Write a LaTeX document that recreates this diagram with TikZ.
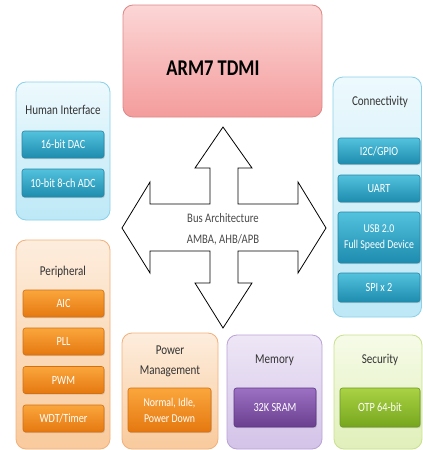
\documentclass[tikz,border=0pt]{standalone}
\usepackage{fontspec}
\setmainfont[FakeStretch=0.82]{Carlito}
\usetikzlibrary{shadows}
\definecolor{armtop}{HTML}{FCD6D6}
\definecolor{armbot}{HTML}{F49C9C}
\definecolor{armline}{HTML}{DE8888}
\definecolor{cyptop}{HTML}{EDF9FD}
\definecolor{cypbot}{HTML}{BDE8F6}
\definecolor{cypline}{HTML}{8AD1E9}
\definecolor{cyboxtop}{HTML}{52C2DE}
\definecolor{cyboxbot}{HTML}{1E8CAE}
\definecolor{cyboxline}{HTML}{2A86A3}
\definecolor{orptop}{HTML}{FDEDDD}
\definecolor{orpbot}{HTML}{F9CA9C}
\definecolor{orpline}{HTML}{F2B07A}
\definecolor{orboxtop}{HTML}{FAA63C}
\definecolor{orboxbot}{HTML}{E57810}
\definecolor{orboxline}{HTML}{D27012}
\definecolor{puptop}{HTML}{EEE7F6}
\definecolor{pupbot}{HTML}{D3C3E8}
\definecolor{pupline}{HTML}{B9A3D6}
\definecolor{puboxtop}{HTML}{9C70C2}
\definecolor{puboxbot}{HTML}{6A3F90}
\definecolor{puboxline}{HTML}{5E3884}
\definecolor{grptop}{HTML}{F6FBE8}
\definecolor{grpbot}{HTML}{E0EFBA}
\definecolor{grpline}{HTML}{C9E08C}
\definecolor{grboxtop}{HTML}{AAD244}
\definecolor{grboxbot}{HTML}{76A61E}
\definecolor{grboxline}{HTML}{6A9820}
\definecolor{ttlgray}{HTML}{333333}
\definecolor{busgray}{HTML}{4A4A4A}
\tikzset{
  panel/.style={draw, line width=0.8pt, rounded corners=10pt, inner sep=0pt, outer sep=0pt},
  subbox/.style={draw, line width=0.6pt, rounded corners=2.5pt, inner sep=0pt, outer sep=0pt,
    text=white, font=\fontsize{12.5}{14.5}\selectfont, align=center,
    drop shadow={opacity=0.25, shadow xshift=0.8pt, shadow yshift=-1.2pt}},
  armpanel/.style={panel, draw=armline, top color=armtop, bottom color=armbot},
  cypanel/.style={panel, draw=cypline, top color=cyptop, bottom color=cypbot},
  orpanel/.style={panel, draw=orpline, top color=orptop, bottom color=orpbot},
  pupanel/.style={panel, draw=pupline, top color=puptop, bottom color=pupbot},
  grpanel/.style={panel, draw=grpline, top color=grptop, bottom color=grpbot},
  cybox/.style={subbox, draw=cyboxline, top color=cyboxtop, bottom color=cyboxbot},
  orbox/.style={subbox, draw=orboxline, top color=orboxtop, bottom color=orboxbot},
  pubox/.style={subbox, draw=puboxline, top color=puboxtop, bottom color=puboxbot},
  grbox/.style={subbox, draw=grboxline, top color=grboxtop, bottom color=grboxbot},
  ttl/.style={text=ttlgray, font=\fontsize{13.5}{16}\selectfont, inner sep=0pt, align=center},
  bustext/.style={text=busgray, font=\fontsize{13}{21}\selectfont, inner sep=0pt, align=center},
  busarrow/.style={draw=black, fill=white, line width=0.8pt, line join=miter}
}
\begin{document}
\begin{tikzpicture}[x=1pt,y=-1pt]
\useasboundingbox (0,0) rectangle (423,450);
\fill[white] (0,0) rectangle (423,450);

% ARM7 core
\node[armpanel, minimum width=199pt, minimum height=112pt] (arm) at (222.5,61) {};
\node[text=black, font=\bfseries\fontsize{22.5}{26}\selectfont, inner sep=0pt] (armt) at (213,68) {ARM7 TDMI};

% Human Interface
\node[cypanel, minimum width=94pt, minimum height=138pt] (hi) at (63,151) {};
\node[ttl] (hit) at (63,110) {Human Interface};
\node[cybox, minimum width=82pt, minimum height=27pt] (dac) at (63,144.5) {16-bit DAC};
\node[cybox, minimum width=82pt, minimum height=28pt] (adc) at (63,183) {10-bit 8-ch ADC};

% Connectivity
\node[cypanel, minimum width=88.5pt, minimum height=240pt] (con) at (377.25,197) {};
\node[ttl] (cont) at (380,102) {Connectivity};
\node[cybox, minimum width=82pt, minimum height=26pt] (i2c) at (379,151) {I2C/GPIO};
\node[cybox, minimum width=82pt, minimum height=27pt] (uart) at (379,188.5) {UART};
\node[cybox, minimum width=82pt, minimum height=51pt, font=\fontsize{12}{16}\selectfont] (usb) at (379,237.5) {USB 2.0\\Full Speed Device};
\node[cybox, minimum width=82pt, minimum height=29pt] (spi) at (379,287.5) {SPI x 2};

% Peripheral
\node[orpanel, minimum width=94pt, minimum height=209pt] (per) at (63,344.5) {};
\node[ttl] (pert) at (63,272) {Peripheral};
\node[orbox, minimum width=81pt, minimum height=27pt] (aic) at (63.5,303.5) {AIC};
\node[orbox, minimum width=81pt, minimum height=27pt] (pll) at (63.5,341.5) {PLL};
\node[orbox, minimum width=81pt, minimum height=27pt] (pwm) at (63.5,380) {PWM};
\node[orbox, minimum width=81pt, minimum height=27pt] (wdt) at (63.5,418.5) {WDT/Timer};

% Power Management
\node[orpanel, minimum width=96pt, minimum height=116pt] (pm) at (170,391) {};
\node[ttl, font=\fontsize{13.5}{20}\selectfont] (pmt) at (170,361) {Power\\Management};
\node[orbox, minimum width=83pt, minimum height=44pt, font=\fontsize{12}{16}\selectfont] (pmb) at (169.5,410) {Normal, Idle,\\Power Down};

% Memory
\node[pupanel, minimum width=95pt, minimum height=114pt] (mem) at (274.5,392) {};
\node[ttl] (memt) at (274.5,360) {Memory};
\node[pubox, minimum width=82pt, minimum height=39pt] (sram) at (275,407.5) {32K SRAM};

% Security
\node[grpanel, minimum width=88pt, minimum height=114pt] (sec) at (378,392) {};
\node[ttl] (sect) at (380,360) {Security};
\node[grbox, minimum width=80pt, minimum height=39pt] (otp) at (380,407.5) {OTP 64-bit};

% Bus architecture four-way arrow
\draw[busarrow] (223,127) -- (252,168) -- (238,168) -- (238,204) -- (298,204) -- (298,182)
  -- (326,228) -- (298,273) -- (298,251) -- (238,251) -- (238,283) -- (252,283)
  -- (223,328) -- (195,283) -- (210,283) -- (210,251) -- (150,251) -- (150,273)
  -- (122,228) -- (150,182) -- (150,204) -- (210,204) -- (210,168) -- (195,168) -- cycle;
\node[bustext] (bus) at (223,229) {Bus Architecture\\AMBA, AHB/APB};
\end{tikzpicture}
\end{document}
